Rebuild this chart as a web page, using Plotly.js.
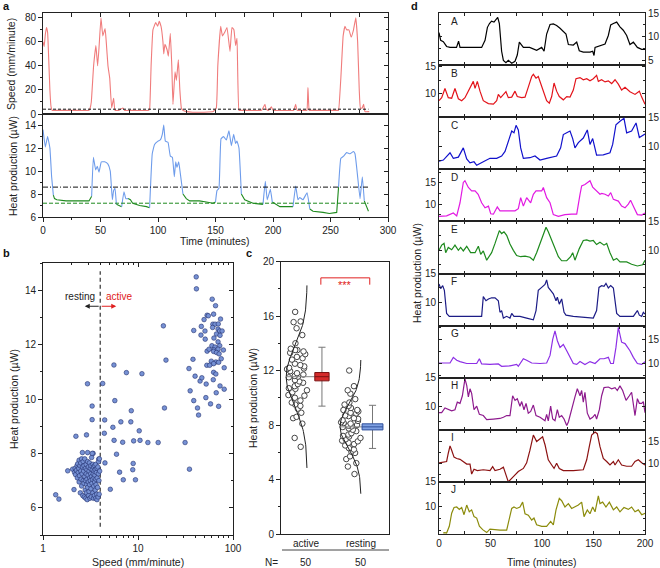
<!DOCTYPE html>
<html><head><meta charset="utf-8">
<script src="https://cdn.plot.ly/plotly-3.0.1.min.js"></script>
<style>html,body{margin:0;padding:0;background:#fff}#chart{width:660px;height:568px}</style>
</head><body><div id="chart"></div>
<script>
// ---------------- DATA ----------------
// Panel a: speed trace
const speedTime = [0,1,2,3,4,5,6,7,8,12, 20,30,40,41,42,44,46,47.5,48.7,50.4, 52,54,55,56.5,58,59.7,61.4,62.6,66,69.5, 71,80,92,92.8,94,95.6,98,99.7,101,102.6, 104.3,105,106,108,109,110.7,112,113,114.8,116, 117.7,119,120.3,121.7,125,130,140,148,150.7,152, 154.5,156,158,160,162.6,164.3,166,167.5,168.7,170.4, 172,180,190,193,194,196,198.6,200,210,218, 219.7,221,228,229.5,230.4,231.5,233,240,250,256, 257,259,261,262.6,264,266,268,270,272,273.6, 275,276,277.5,278.8,280,283.7];
const speedVal = [60,56,66,72,68,45,20,6,3,3, 3,3,3,5,10,40,57,40,55,80, 65,71,60,40,30,5,13,3,3,5, 3,3,3,5,40,70,76,73,77,73, 60,50,58,53,48,67,40,8,35,28, 45,20,5,3,2,1.5,1.5,2,5,40, 73,65,68,72,52,72,70,57,63,3, 3,3,3,8,4,3,6,3,3,3, 8,3,3,3,22,3,3,3,3,3, 3,30,65,73,70,70,64,70,80,60, 20,5,5,8,2,2];
// Panel a: heat production trace
const heatTime = [0,2,4,6,7.5,9,10,12,20,30, 40,42.3,43.8,45.8,47.2,48.7,50.7,53.6,56.5,58.5, 60.3,61.4,62.6,63.8,66.7,68.4,70.4,72,74,76, 78,84,90,92.7,95,97,100,102,103.8,105, 106.4,108.7,110.7,112.5,114.2,115.4,116.5,118,119.4,121.7, 124.6,127.5,136,142,147.8,150,151.3,153,154.8,157, 159.4,161.7,163.8,165.8,167.5,168.7,170.4,172.5,175.4,182.6, 191.3,193.3,195,197.7,199.4,203,206,217.4,219.7,221.7, 223.2,226,229.6,232,234.8,243.5,249,255.4,257,259, 261.4,264,267,270,271.3,273.3,275.7,277.7,279.4,283];
const heatVal = [13.6,12.1,13.0,12.0,9.5,7.9,7.6,7.5,7.4,7.4, 7.4,7.8,11.2,10.1,10.4,9.9,10.8,10.8,10.6,10.0, 7.5,8.3,8.5,7.1,7.0,6.9,8.2,7.6,7.6,7.5, 7.2,7.0,6.9,6.8,11.5,12.3,12.6,12.7,13.2,14.0, 12.6,12.5,11.3,11.2,9.5,10.8,10.3,10.8,9.8,8.0, 7.6,7.4,7.4,7.3,7.2,7.3,8.3,8.5,12.8,13.0, 12.7,13.5,12.2,13.2,12.4,12.6,12.0,8.0,7.5,7.2, 7.1,9.1,7.5,8.4,7.3,7.1,6.9,6.9,8.7,7.5, 7.7,7.5,8.1,6.7,6.5,6.4,6.3,6.4,8.6,11.1, 11.3,11.6,11.5,11.7,11.5,9.8,7.6,9.5,7.4,6.5];
const activeIntervals = [[0,7.5],[43.8,62.6],[70.4,72],[95,119.4],[151.3,170.4],[193.3,197.7],[219.7,229.6],[259,277.7]];
const speedThreshold = 4;
const heatUpperLevel = 8.6;
const heatLowerLevel = 7.2;

// Panel b: speed vs heat production
const scatterSpeedHeat = [
 [1.36,6.48],[1.47,6.32],[1.82,7.36],[2.12,6.67],[2.22,8.63],[2.87,8.68],[2.94,10.56],[3.29,9.74],[3.29,9.24],[3.37,8.0],
 [4.25,10.57],[4.42,8.74],[4.46,9.23],[4.49,7.65],[3.86,7.79],[5.11,6.68],[5.44,8.96],[5.58,11.25],[5.7,9.94],[5.6,8.48],
 [5.94,7.97],[6.4,7.31],[6.6,9.16],[6.9,8.41],[7.0,7.03],[7.55,10.97],[8.4,9.16],[8.5,9.57],[8.8,7.4],[8.9,7.63],
 [9.0,8.46],[9.4,7.03],[10.3,8.83],[10.5,8.48],[11.0,10.93],[12.7,8.4],[16.3,8.4],[18.5,12.69],[19.0,9.67],[19.7,11.43],
 [31.3,8.4],[34.4,11.12],[34.8,7.42],[35.4,10.3],[37.9,11.46],[38.6,12.52],[38.6,9.94],[39.9,10.84],[41,14.49],[41.2,14.05],
 [42.3,9.67],[43.4,9.41],[45,10.66],[46,12.35],[46.4,12.67],[47,10.78],[49.6,12.92],[50.7,12.5],[51,12.2],[51.8,10.05],
 [52.2,10.55],[53,11.24],[53.4,11.76],[53.4,13.08],[56,11.83],
 [60.4,13.67],[65.5,13.43],[62.5,13.12],[55,13.06],[73.9,12.94],[61.4,12.75],[64.7,12.75],[70,12.76],[61,12.63],[69.6,12.57],
 [72.3,12.5],[76.8,12.5],[67,12.39],[73,12.34],[63,12.24],[69.6,12.1],[60,11.96],[72.5,11.96],[64.7,11.91],[62.8,11.81],
 [69.6,11.83],[79.3,11.8],[62.5,11.75],[67,11.71],[71.4,11.66],[75.2,11.48],[59.1,11.39],[66,11.36],[70.6,11.35],[62.5,11.3],
 [56.8,11.24],[80.8,11.15],[62.5,10.98],[66,10.92],[62,10.71],[73,10.48],[80.8,10.36],[66.6,10.23],[58,9.82],[70.6,9.73],
 [2.05,7.42],[2.15,7.30],[2.18,7.45],[2.20,7.22],[2.25,7.38],[2.28,7.55],[2.30,7.10],[2.32,7.62],[2.35,7.30],[2.38,7.45],
 [2.40,6.95],[2.40,7.75],[2.42,7.18],[2.45,7.55],[2.47,6.55],[2.50,7.35],[2.50,7.65],[2.52,7.05],[2.55,7.80],[2.55,6.80],
 [2.58,7.25],[2.60,7.50],[2.60,8.03],[2.62,6.45],[2.65,7.00],[2.65,7.70],[2.68,7.35],[2.70,6.90],[2.70,7.55],[2.72,6.40],
 [2.75,7.15],[2.75,7.80],[2.78,6.65],[2.80,7.45],[2.80,7.00],[2.82,6.35],[2.85,7.60],[2.85,7.25],[2.87,6.55],[2.88,6.85],
 [2.90,7.40],[2.90,7.05],[2.92,6.30],[2.95,7.70],[2.95,6.75],[2.95,8.03],[2.98,7.20],[3.00,7.50],[3.00,6.95],[3.02,6.45],
 [3.05,7.35],[3.05,6.60],[3.08,7.65],[3.10,7.10],[3.10,6.85],[3.12,6.35],[3.15,7.45],[3.15,7.00],[3.18,7.25],[3.20,6.70],
 [3.20,7.55],[3.22,6.40],[3.25,7.15],[3.25,7.85],[3.28,6.90],[3.30,7.40],[3.30,8.00],[3.32,7.05],[3.35,6.55],[3.35,7.60],
 [3.38,7.25],[3.40,6.35],[3.40,7.50],[3.42,6.80],[3.45,7.10],[3.45,7.35],[3.48,6.45],[3.50,7.55],[3.50,6.95],[3.52,7.20],
 [3.55,6.65],[3.55,7.40],[3.58,6.35],[3.60,7.05],[3.60,7.60],[3.62,6.85],[3.65,7.30],[3.68,6.50],[3.70,7.45],[3.70,6.30],
 [3.72,7.10],[3.75,6.75],[3.78,7.50],[3.80,6.40],[3.82,7.25],[3.85,7.70],[3.88,7.00],[3.90,6.50],[3.92,7.80],[3.95,7.35]
];

// Panel c: active vs resting heat production
const groupNames = ['active','resting'];
const groupN = ['50','50'];
const activeHeat = [16.3,15.6,15.55,15.1,14.6,14.0,13.6,13.5,13.5,13.4, 13.3,13.2,13.0,12.9,12.8,12.5,12.4,12.3,12.2,12.15, 12.1,11.95,11.8,11.7,11.6,11.55,11.5,11.3,11.2,11.1, 11.0,10.85,10.7,10.65,10.55,10.4,10.2,10.15,10.0,9.8, 9.65,9.5,9.4,9.2,8.9,8.6,8.5,8.1,7.05,6.4];
const restingHeat = [12.0,10.85,10.55,10.3,9.9,9.65,9.5,9.4,9.25,9.1, 9.1,9.0,8.9,8.85,8.7,8.65,8.5,8.45,8.35,8.3, 8.2,8.15,8.1,8.0,7.95,7.9,7.85,7.75,7.65,7.55, 7.4,7.3,7.2,7.15,7.05,6.95,6.85,6.8,6.7,6.6, 6.5,6.3,6.2,6.05,5.95,5.7,5.5,5.2,4.95,4.4];

// Panel d: ten individual traces
const tA=[0,1.6,4.2,7.4,10.7,17,19,20.4,27,41.4,44.7,47,49,51,53.4,55.3,57,58.6,60.8,62.5,65,67.3,70.6,73.8,76,78,79.3,81.9,88,94.8,99.7,102,104.5,107.8,111,114.2,117.5,120.7,123.3,125.6,130.4,133.7,136.2,140.1,146.6,149.2,150.5,151.5,156.3,161.2,164.4,166.7,169.3,172.5,175.7,178.9,182.2,185.4,188.7,192.6,196.8,200];
const hA=[10.9,9.3,9.0,8.0,7.8,7.8,9.1,7.8,7.8,7.8,9.3,12.0,12.8,13.3,13.1,13.6,14.1,12.8,7.0,5.1,4.6,5.1,4.5,4.9,6.2,8.9,8.5,7.8,7.8,7.2,7.8,7.0,10.6,12.6,12.7,12.4,11.8,11.2,10.6,8.4,8.3,8.9,7.1,6.8,6.8,7.0,6.1,7.8,8.2,8.5,10.3,12.5,12.8,13.1,12.1,11.4,10.3,8.4,8.9,7.8,7.4,7.4];
const tB=[0,2.6,5.8,9,12.3,15.5,18.8,22,25.2,30,33.3,35,37.2,39.8,43,47.9,52.8,56,57.6,59.9,62.5,65,67.3,70.6,73.8,76,80.3,83.5,86.7,90,91.6,94.2,96.4,98.7,101.3,104.5,107.1,109.4,111.7,114.2,116.8,120.7,124,127.2,130.4,133,136.9,140.1,143.4,146.6,149.8,153,154.7,157.9,161.2,164.4,167.6,170.9,174.1,177.3,180.6,185.4,190.3,194.5,196.8,200];
const hB=[8.75,9.3,11.0,9.3,9.2,11.0,9.1,8.75,9.3,11.25,12.3,11.0,12.3,10.5,8.75,8.2,8.1,8.75,9.9,9.3,9.9,10.4,9.3,9.4,10.5,9.5,9.3,9.4,11.25,13.2,13.6,12.9,13.2,11.9,10.5,8.75,8.3,9.5,12.0,10.5,9.5,8.9,9.5,9.4,10.7,12.8,13.0,12.6,12.8,12.4,12.8,13.4,12.3,12.6,12.2,12.4,11.9,12.6,11.8,10.7,11.2,10.4,9.9,10.5,9.4,8.1];
const tC=[0,4.2,10.7,13.9,18.8,23.6,26.9,30.1,34,36.6,43,49.5,56,60.8,64.1,67.3,70.6,72.8,74.8,77,79.3,81.9,88.3,93.2,98.1,104.5,109.4,114.2,118.1,120.7,124,127.2,129.8,132,135.3,140.1,144,146.6,149.2,153,159.5,166,168.6,171.8,175.7,179.6,182.2,187,191.3,194.5,200];
const hC=[7.4,7.6,8.85,7.9,8.1,9.7,7.8,7.1,7.3,6.7,7.3,7.9,7.9,8.3,9.1,10.9,12.6,12.3,13.6,12.8,9.7,7.9,8.0,8.3,7.6,7.9,8.1,8.3,9.7,12.0,12.3,12.6,11.3,9.7,10.6,11.4,12.8,10.3,11.3,8.45,8.5,8.85,10.3,13.7,14.3,14.8,12.3,12.6,14.0,11.5,12.1];
const tD=[0,7.4,13.9,17.2,20.4,23.6,25.2,28.5,31.7,35,38,41.4,44.7,48,50.2,52.8,56.6,59.2,65.7,73.8,77,79.3,81.9,85.1,89,91.6,94.2,99.7,101.3,103,104.5,107.8,111,115.9,122.3,128.8,133.7,136.9,138.5,141.7,145,146.6,149.2,153,156.3,158,161.2,164.4,166.7,169.3,174.1,177.3,180.6,183.8,186,188.7,192.6,196.8,200];
const hD=[7.1,7.2,7.9,7.2,10.3,15.1,15.5,13.9,13.1,13.1,12.3,10.3,9.1,9.5,7.7,7.6,9.3,8.4,8.4,8.4,8.9,11.5,9.5,11.5,10.3,12.3,13.1,13.1,13.9,12.3,11.5,10.3,7.5,7.1,7.5,7.6,7.6,12.3,14.3,14.6,15.1,15.5,14.0,13.1,12.3,12.5,12.3,11.9,12.7,11.1,10.7,9.5,9.1,10.0,10.9,9.5,7.5,7.4,7.9];
const tE=[0,2.6,4.9,6.5,9,12.3,15.5,18.8,21,23.6,26.9,30.7,35,38.2,40.5,43,46.3,48.9,51.1,54.4,58.6,60.8,63.1,65.7,68.9,72.2,75.4,79.3,83.5,88.3,91.6,94.8,98.1,101.3,103.9,106.1,109.4,112.6,115.9,119.1,124,127.8,129.8,132,136.2,140.1,143.4,146.6,149.8,153,156.3,160.2,162.8,166,169.3,172.5,175.7,182.2,187,192.6,197.7,200];
const hE=[10.0,10.9,11.2,9.6,10.5,10.1,10.9,10.0,10.5,9.9,10.7,9.6,9.6,10.7,9.3,9.9,8.3,8.9,9.6,11.2,13.4,12.9,13.2,12.6,11.1,10.0,9.1,8.9,9.0,8.8,8.3,9.6,11.2,12.9,14.0,13.2,11.7,10.3,8.9,8.2,8.2,8.9,9.6,8.3,10.3,11.7,11.8,11.6,11.7,11.0,11.4,10.9,11.2,9.6,8.3,8.6,8.0,8.0,7.6,7.3,7.5,8.3];
const tF=[0,1.6,3.6,5.2,7.4,10,26.9,41.4,43,45.6,48,51.1,54.4,57.6,59.2,60.8,62.5,65.7,68.9,70.6,72.8,78.6,85.1,91.6,94.2,96.4,99.7,102.9,104.5,106.1,108.4,111,113.6,114.9,116.8,119.1,121.4,123.3,130.4,143.4,149.8,153,155.3,157.9,160.2,162.1,164.4,166.7,169.3,172.5,175.7,188.7,192.6,194.5,196.8,198.4,200];
const hF=[13.2,12.4,12.9,12.1,8.1,7.6,7.6,7.6,11.0,10.3,10.6,10.8,10.8,10.3,8.3,8.6,7.3,7.6,7.3,8.1,7.6,7.6,7.3,7.0,8.6,12.1,12.6,13.1,13.9,12.6,12.1,11.5,10.3,10.9,9.7,10.6,8.3,7.8,7.6,7.4,7.3,8.6,12.6,12.9,12.8,13.3,12.5,12.9,12.5,8.1,7.6,7.6,8.6,7.8,7.6,8.3,8.0];
const tG=[0,10.7,13.9,17.2,20.4,26.9,36.6,39.2,41.4,49.5,57.6,60.8,68.9,75.4,77,81.9,85.1,90,98.1,104.5,107.8,110.4,112.6,114.9,117.5,120.7,124,127.2,130.4,133.7,136.9,141.7,146.6,151.5,156.3,160.2,164.4,166.7,169.3,171.8,174.1,177.3,180.6,185.4,188.7,192.6,196.8,200];
const hG=[10.1,10.1,11.3,10.7,10.4,10.0,10.0,11.0,9.9,9.8,9.9,9.4,9.5,9.8,9.4,11.0,10.7,10.1,10.0,10.1,11.7,15.1,16.9,14.8,13.4,14.0,12.7,11.3,10.0,9.8,10.4,9.8,10.4,10.0,11.0,11.0,11.3,10.0,10.0,13.4,17.6,14.5,14.2,12.7,11.3,10.0,9.8,10.4];
const tH=[0,2.6,5.8,9,12.3,15.5,17.8,20.4,22.7,25.2,26.9,28.5,30.1,31.7,34,36.6,39.2,43,46.3,52.8,59.2,62.5,65.7,68.9,71.5,73.8,76,78.6,80.3,82.5,84.5,86.7,89,91.6,94.2,98.1,102.9,104.5,106.1,108.4,110.4,112.6,114.9,116.8,119.1,121.4,124,125.6,127.8,129.8,132,134.3,136.9,138.5,140.1,141.7,144,146.6,149.2,151.5,153,155.7,157.9,160.2,164.4,167.6,170.9,173.1,175.7,178.3,181.6,184.8,187,190.3,192.6,194.5,196.8,198.4,200];
const hH=[9.0,9.0,9.8,9.5,9.3,9.5,10.8,10.6,11.9,14.8,13.7,11.7,13.1,12.3,9.5,10.1,8.7,8.5,7.8,7.9,8.0,8.2,8.5,8.5,11.9,11.1,11.4,10.1,10.9,9.5,10.6,8.9,9.2,10.3,8.5,8.2,7.6,8.7,7.6,10.1,7.9,7.6,9.5,8.2,8.5,7.9,6.8,7.4,8.9,10.6,11.7,13.1,11.9,12.8,10.8,12.5,8.9,7.9,8.2,8.7,7.9,9.5,11.9,13.3,13.4,13.1,13.3,12.8,13.6,12.8,11.1,11.9,12.5,8.5,11.4,10.6,10.6,10.9,9.0];
const tI=[0,7.4,9,10.7,12.3,14.6,17.2,20.4,26.9,30.1,31.7,34,37.2,43,49.5,52.1,54.4,59.2,62.5,65,67.3,72.2,77,81.9,85.1,88.3,91.6,94.8,98.1,100.6,103,106.1,109.4,111.7,114.2,116.8,120.7,130.4,140.1,143.4,145.9,148.2,151.5,153.7,156.3,159.5,162.8,166,169.3,170.9,174.1,177.3,182.2,187,190.3,193.5,196.8,200];
const hI=[10.1,10.4,12.3,14.0,13.0,11.4,11.1,10.9,9.8,9.8,7.5,8.6,8.3,8.5,8.3,9.2,8.3,8.6,9.1,7.3,5.7,6.9,8.1,8.8,10.1,13.0,16.5,15.0,15.7,16.1,14.2,10.8,9.6,8.8,10.0,8.8,8.3,8.3,8.5,10.8,13.8,16.5,17.2,16.8,13.8,11.1,10.4,9.6,10.4,9.6,10.8,9.6,9.3,9.3,10.4,10.8,10.1,9.6];
const tJ=[4,5.8,7.4,10,12.3,14.6,17.2,19.7,22,24.3,26.9,29.4,31.7,34,36.6,39.2,42.4,46.3,49.5,52.8,59.2,65.7,68.3,70.6,72.8,75.4,78.6,81.2,83.5,86.7,90,92.2,94.8,99.7,104.5,108.4,111,113.6,116.8,119.1,122.3,125.6,128.8,132,135.3,138.5,140.8,144,146.6,149.2,151.5,154.7,156.3,158.9,162.1,165.4,169.3,172.5,175.7,179.6,183.8,187,190.3,193.5,196.8,200];
const hJ=[4.4,4.5,4.4,5.8,8.5,9.7,9.8,9.3,9.7,8.2,10.2,8.8,9.2,7.8,7.5,5.8,5.1,4.5,5.2,5.1,5.0,5.0,7.8,9.5,9.8,9.5,9.8,10.8,8.4,8.1,7.1,7.5,6.1,5.8,5.8,6.8,6.1,9.2,11.6,11.1,9.8,10.5,9.5,9.8,10.2,10.8,7.8,9.2,8.4,9.8,8.8,12.1,10.5,10.8,9.8,10.8,9.2,9.8,8.8,9.7,9.3,9.8,8.8,9.2,8.2,8.5];
const dNames=['A','B','C','D','E','F','G','H','I','J'];

// ---------------- LAYOUT HELPERS ----------------
const W=660,H=568;
const FONT='Liberation Sans, Arial, Helvetica, sans-serif';
const px=x=>x/W, py=y=>1-y/H;
const layout={width:W,height:H,margin:{l:0,r:0,t:0,b:0},showlegend:false,
  paper_bgcolor:'#fff',plot_bgcolor:'rgba(0,0,0,0)',
  font:{family:FONT,size:10,color:'#222'},shapes:[],annotations:[],boxmode:'overlay'};
const traces=[];
let nX=0,nY=0;
function xid(){nX++;return nX===1?'x':'x'+nX;}
function yid(){nY++;return nY===1?'y':'y'+nY;}
function axKey(id){return id[0]+'axis'+id.slice(1);}
const baseAx={showline:true,linecolor:'#222',linewidth:1,showgrid:false,zeroline:false,
  tickcolor:'#222',ticklen:4,tickwidth:1,tickfont:{family:FONT,size:10,color:'#222'}};
function setAx(id,o){layout[axKey(id)]=Object.assign({},baseAx,o);}
function dummy(x,y){traces.push({type:'scatter',mode:'markers',x:[],y:[],xaxis:x,yaxis:y,hoverinfo:'skip'});}
function paperText(text,x,y,opt){layout.annotations.push(Object.assign({xref:'paper',yref:'paper',x:px(x),y:py(y),text:text,showarrow:false,xanchor:'center',yanchor:'middle',font:{family:FONT,size:10.5,color:'#222'}},opt||{}));}

// ---------------- PANEL a ----------------
const aX1=xid(), aY1=yid(), aY1r=yid();
const aX2=xid(), aY2=yid(), aY2r=yid();
const speedRange=[0,84], heatRangeA=[6,14.96];
setAx(aX1,{domain:[px(43),px(388)],anchor:aY1,range:[0,300],dtick:50,tick0:0,ticks:'inside',mirror:'allticks',showticklabels:false,minor:{dtick:25,ticks:'inside',ticklen:2}});
setAx(aY1,{domain:[py(114),py(13)],anchor:aX1,range:speedRange,dtick:20,tick0:0,ticks:'outside',mirror:true,minor:{dtick:10,ticks:'outside',ticklen:2}});
setAx(aY1r,{overlaying:aY1,side:'right',anchor:aX1,range:speedRange,dtick:20,tick0:0,ticks:'inside',showline:false,showticklabels:false,minor:{dtick:10,ticks:'inside',ticklen:2}});
setAx(aX2,{domain:[px(43),px(388)],anchor:aY2,range:[0,300],dtick:50,tick0:0,ticks:'outside',mirror:true,minor:{dtick:25,ticks:'outside',ticklen:2}});
setAx(aY2,{domain:[py(217),py(114)],anchor:aX2,range:heatRangeA,dtick:2,tick0:0,ticks:'outside',mirror:true,minor:{dtick:1,ticks:'outside',ticklen:2}});
setAx(aY2r,{overlaying:aY2,side:'right',anchor:aX2,range:heatRangeA,dtick:2,tick0:0,ticks:'inside',showline:false,showticklabels:false,minor:{dtick:1,ticks:'inside',ticklen:2}});
dummy(aX1,aY1r); dummy(aX2,aY2r);

traces.push({type:'scatter',mode:'lines',x:speedTime,y:speedVal,xaxis:aX1,yaxis:aY1,line:{color:'#f07c7c',width:1.1,shape:'spline',smoothing:0.3}});
const tEnd=Math.max(...heatTime);
traces.push({type:'scatter',mode:'lines',x:[0,tEnd],y:[speedThreshold,speedThreshold],xaxis:aX1,yaxis:aY1,line:{color:'#111',width:1,dash:'3px,2px'}});
// heat: resting (green) and active (blue)
const isAct=heatTime.map(t=>activeIntervals.some(iv=>t>=iv[0]&&t<=iv[1]));
traces.push({type:'scatter',mode:'lines',x:heatTime,y:heatVal.map((v,i)=>isAct[i]?null:v),xaxis:aX2,yaxis:aY2,line:{color:'#1e8a1e',width:1.1},connectgaps:false});
activeIntervals.forEach(iv=>{
  const idx=heatTime.map((t,i)=>(t>=iv[0]&&t<=iv[1])?i:-1).filter(i=>i>=0);
  const i0=Math.max(0,idx[0]-1), i1=Math.min(heatTime.length-1,idx[idx.length-1]+1);
  traces.push({type:'scatter',mode:'lines',x:heatTime.slice(i0,i1+1),y:heatVal.slice(i0,i1+1),xaxis:aX2,yaxis:aY2,line:{color:'#6e9ceb',width:1.1,shape:'spline',smoothing:0.3}});
});
traces.push({type:'scatter',mode:'lines',x:[0,tEnd],y:[heatUpperLevel,heatUpperLevel],xaxis:aX2,yaxis:aY2,line:{color:'#111',width:1,dash:'5px,2px,1px,2px'}});
traces.push({type:'scatter',mode:'lines',x:[0,tEnd],y:[heatLowerLevel,heatLowerLevel],xaxis:aX2,yaxis:aY2,line:{color:'#1e8a1e',width:1,dash:'4px,2px'}});

paperText('Speed (mm/minute)',11,64,{textangle:-90});
paperText('Heat production (µW)',13,166,{textangle:-90});
paperText('Time (minutes)',215,241);

// ---------------- PANEL b ----------------
const bX=xid(), bY=yid(), bXt=xid(), bYr=yid();
const logMinor=[2,3,4,5,6,7,8,9,20,30,40,50,60,70,80,90];
setAx(bX,{domain:[px(43),px(233)],anchor:bY,type:'log',range:[0,2],tickmode:'array',tickvals:[1,10,100],ticktext:['1','10','100'],ticks:'outside',mirror:true,minor:{tickmode:'array',tickvals:logMinor,ticks:'outside',ticklen:2}});
setAx(bY,{domain:[py(535),py(263)],anchor:bX,range:[5,15],dtick:2,tick0:0,ticks:'outside',mirror:true,minor:{dtick:1,ticks:'outside',ticklen:2}});
setAx(bXt,{overlaying:bX,side:'top',anchor:bY,type:'log',range:[0,2],tickmode:'array',tickvals:[1,10,100],ticks:'inside',showline:false,showticklabels:false,minor:{tickmode:'array',tickvals:logMinor,ticks:'inside',ticklen:2}});
setAx(bYr,{overlaying:bY,side:'right',anchor:bX,range:[5,15],dtick:2,tick0:0,ticks:'inside',showline:false,showticklabels:false,minor:{dtick:1,ticks:'inside',ticklen:2}});
dummy(bXt,bY); dummy(bX,bYr);
traces.push({type:'scatter',mode:'lines',x:[speedThreshold,speedThreshold],y:[5.3,14.7],xaxis:bX,yaxis:bY,line:{color:'#222',width:1.1,dash:'4px,3px'}});
traces.push({type:'scatter',mode:'markers',x:scatterSpeedHeat.map(p=>p[0]),y:scatterSpeedHeat.map(p=>p[1]),xaxis:bX,yaxis:bY,
  marker:{size:4.6,color:'rgb(118,145,212)',line:{color:'rgb(35,48,110)',width:0.6}}});
layout.annotations.push({xref:bX,yref:bY,x:Math.log10(2.75),y:13.41,ax:Math.log10(speedThreshold),ay:13.41,axref:bX,ayref:bY,text:'',showarrow:true,arrowhead:2,arrowsize:1,arrowwidth:1,arrowcolor:'#222'});
layout.annotations.push({xref:bX,yref:bY,x:Math.log10(5.9),y:13.41,ax:Math.log10(speedThreshold),ay:13.41,axref:bX,ayref:bY,text:'',showarrow:true,arrowhead:2,arrowsize:1,arrowwidth:1,arrowcolor:'#e02020'});
layout.annotations.push({xref:bX,yref:bY,x:Math.log10(2.45),y:13.76,text:'resting',showarrow:false,font:{family:FONT,size:10,color:'#222'}});
layout.annotations.push({xref:bX,yref:bY,x:Math.log10(6.4),y:13.76,text:'active',showarrow:false,font:{family:FONT,size:10,color:'#e02020'}});
paperText('Heat production (µW)',14,399,{textangle:-90});
paperText('Speed (mm/minute)',138,562);

// ---------------- PANEL c ----------------
const cX=xid(), cY=yid();
setAx(cX,{domain:[px(281),px(389)],anchor:cY,range:[0.545,2.51],tickmode:'array',tickvals:[1,2],ticktext:groupNames,ticks:'',mirror:true});
setAx(cY,{domain:[py(534),py(261.5)],anchor:cX,range:[0,20],dtick:4,tick0:0,ticks:'outside',mirror:true,minor:{dtick:2,ticks:'outside',ticklen:2}});
function stats(a){const m=a.reduce((s,v)=>s+v,0)/a.length;const sd=Math.sqrt(a.reduce((s,v)=>s+(v-m)*(v-m),0)/(a.length-1));return {m:m,sd:sd,se:sd/Math.sqrt(a.length)};}
const groups=[
  {vals:activeHeat,pos:1.02,ptsX:0.855,box:[1.16,1.42],fill:'#d42b2b',edge:'#7a1212'},
  {vals:restingHeat,pos:2.0,ptsX:1.83,box:[2.02,2.40],fill:'#7ea0e2',edge:'#2f4f9a'}
];
const wmax=0.38;
groups.forEach(g=>{
  const st=stats(g.vals);
  const xs=[],ys=[];
  for(let i=0;i<=100;i++){const y=st.m-3.1*st.sd+6.2*st.sd*i/100;const z=(y-st.m)/st.sd;ys.push(y);xs.push(g.pos-wmax*Math.exp(-0.5*z*z));}
  traces.push({type:'scatter',mode:'lines',x:xs,y:ys,xaxis:cX,yaxis:cY,line:{color:'#222',width:1}});
  traces.push({type:'box',y:g.vals,x0:g.ptsX,width:0.44,xaxis:cX,yaxis:cY,boxpoints:'all',jitter:1,pointpos:0,
    fillcolor:'rgba(0,0,0,0)',line:{width:0,color:'rgba(0,0,0,0)'},whiskerwidth:0,
    marker:{size:5.5,color:'#fff',line:{color:'#444',width:1}},hoverinfo:'skip'});
  layout.shapes.push({type:'line',xref:cX,yref:cY,x0:g.pos-wmax,x1:g.box[0],y0:st.m,y1:st.m,line:{color:'#888',width:1}});
  const xc=(g.box[0]+g.box[1])/2;
  layout.shapes.push({type:'line',xref:cX,yref:cY,x0:xc,x1:xc,y0:st.m-st.sd,y1:st.m+st.sd,line:{color:'#777',width:1}});
  layout.shapes.push({type:'line',xref:cX,yref:cY,x0:xc-0.065,x1:xc+0.065,y0:st.m-st.sd,y1:st.m-st.sd,line:{color:'#777',width:1}});
  layout.shapes.push({type:'line',xref:cX,yref:cY,x0:xc-0.065,x1:xc+0.065,y0:st.m+st.sd,y1:st.m+st.sd,line:{color:'#777',width:1}});
  layout.shapes.push({type:'rect',xref:cX,yref:cY,x0:g.box[0],x1:g.box[1],y0:st.m-st.se,y1:st.m+st.se,fillcolor:g.fill,line:{color:g.edge,width:1}});
  layout.shapes.push({type:'line',xref:cX,yref:cY,x0:g.box[0],x1:g.box[1],y0:st.m,y1:st.m,line:{color:g.edge,width:1}});
});
layout.shapes.push({type:'path',xref:cX,yref:cY,path:'M1.27,18.3 L1.27,18.8 L2.16,18.8 L2.16,18.3',line:{color:'#e02020',width:1}});
layout.annotations.push({xref:cX,yref:cY,x:1.715,y:18.25,text:'***',showarrow:false,font:{family:FONT,size:11,color:'#e02020'},yanchor:'middle'});
paperText('Heat production (µW)',253,398,{textangle:-90});
layout.shapes.push({type:'line',xref:'paper',yref:'paper',x0:px(282),x1:px(389),y0:py(550),y1:py(550),line:{color:'#444',width:1}});
paperText('N=',271,562,{font:{family:FONT,size:10,color:'#222'}});
paperText(groupN[0],306,562,{font:{family:FONT,size:10,color:'#222'}});
paperText(groupN[1],361,562,{font:{family:FONT,size:10,color:'#222'}});

// ---------------- PANEL d ----------------
const dTimes=[tA,tB,tC,tD,tE,tF,tG,tH,tI,tJ];
const dVals=[hA,hB,hC,hD,hE,hF,hG,hH,hI,hJ];
const dColors=['#000000','#e3141b','#1111cc','#e21ae2','#1d8a1d','#1c1c86','#8d2fe6','#8e1b8e','#8c1212','#8c8c0c'];
const dRanges=[[4.1,15],[5.7,15.3],[6,15],[5.9,18.2],[6,15],[6,15],[7,18],[6.05,15],[5.7,17.7],[4.2,15]];
const dLabelTicks=[[5,10,15],[10,15],[10,15],[10,15],[10,15],[10,15],[10,15],[10,15],[10,15],[10,15]];
const dSides=['right','left','right','left','right','left','right','left','right','left'];
const dTop=13, dH=52.1;
dNames.forEach((nm,k)=>{
  const top=dTop+k*dH, bot=top+dH;
  const X=xid(), Y=yid();
  setAx(X,{domain:[px(439),px(645)],anchor:Y,range:[0,200],dtick:50,tick0:0,ticks:'inside',ticklen:3,mirror:'allticks',showticklabels:k===9,minor:{dtick:25,ticks:'inside',ticklen:3}});
  setAx(Y,{domain:[py(bot),py(top)],anchor:X,range:dRanges[k],tickmode:'array',tickvals:dLabelTicks[k],ticks:'inside',ticklen:3,mirror:'allticks',side:dSides[k],minor:{tickmode:'array',tickvals:[5,7.5,10,12.5,15,17.5],ticks:'inside',ticklen:2}});
  traces.push({type:'scatter',mode:'lines',x:dTimes[k],y:dVals[k],xaxis:X,yaxis:Y,line:{color:dColors[k],width:1.2}});
  paperText(nm,449,top+8,{xanchor:'left',font:{family:FONT,size:10,color:'#222'}});
});
paperText('Heat production (µW)',417,273,{textangle:-90});
paperText('Time (minutes)',542,562);

[['a',6,6],['b',6,253],['c',249,253],['d',414,6]].forEach(p=>paperText(p[0],p[1],p[2],{font:{family:FONT,size:11,color:'#111'},text:'<b>'+p[0]+'</b>'}));

Plotly.newPlot('chart',traces,layout,{displayModeBar:false,staticPlot:true});
</script>
</body></html>
